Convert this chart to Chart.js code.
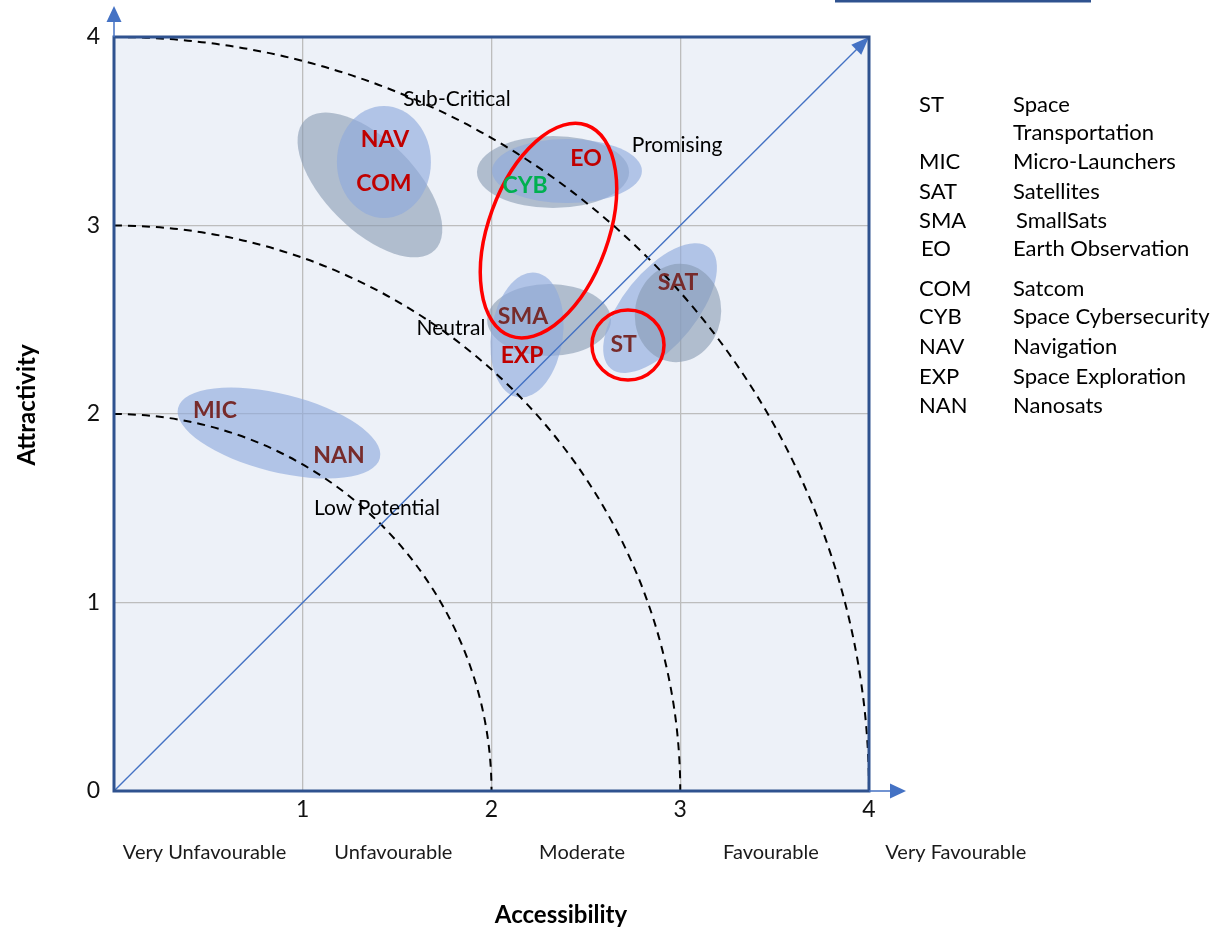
<!DOCTYPE html>
<html>
<head>
<meta charset="utf-8">
<title>Attractivity vs Accessibility</title>
<script src="https://cdn.jsdelivr.net/npm/chart.js@4.4.1/dist/chart.umd.min.js"></script>
<style>
  html, body { margin: 0; padding: 0; background: #ffffff; }
  #wrap { position: relative; width: 1217px; height: 929px; }
  canvas { display: block; }
</style>
</head>
<body>
<div id="wrap"><canvas id="matrix" width="1217" height="929"></canvas></div>
<script>
// ---- Data -----------------------------------------------------------------
// Axis ticks (0..4 on both axes)
const tickValues = [0, 1, 2, 3, 4];

// Accessibility bands printed under the x axis
const accessBands = ['Very Unfavourable', 'Unfavourable', 'Moderate', 'Favourable', 'Very Favourable'];
const bandAccess  = [0.48, 1.48, 2.48, 3.48, 4.46];

// Segments: code, accessibility (x), attractivity (y)
const segCodes   = ['NAV', 'COM', 'EO', 'CYB', 'SAT', 'SMA', 'EXP', 'ST', 'MIC', 'NAN'];
const segAccess  = [1.436, 1.430, 2.501, 2.178, 2.988, 2.167, 2.162, 2.700, 0.535, 1.192];
const segAttract = [3.454, 3.220, 3.353, 3.210, 2.695, 2.515, 2.308, 2.366, 2.016, 1.782];

// Segment groupings as ellipses: centre (x, y), semi-axes (a, b) in axis units, tilt in degrees
const groupX    = [1.356, 1.430, 2.326, 2.400, 2.305, 2.188, 2.893, 2.988, 0.874];
const groupY    = [3.215, 3.337, 3.284, 3.289, 2.499, 2.419, 2.562, 2.536, 1.899];
const groupA    = [0.487, 0.249, 0.403, 0.397, 0.328, 0.190, 0.413, 0.228, 0.551];
const groupB    = [0.239, 0.297, 0.191, 0.170, 0.191, 0.334, 0.196, 0.262, 0.207];
const groupTilt = [45, 0, 0, 0, 0, 8, -51, 10, 14];
const groupTone = ['grey', 'blue', 'grey', 'blue', 'grey', 'blue', 'blue', 'grey', 'blue'];

// Highlighted groups (red outlines)
const focusX    = [2.302, 2.723];
const focusY    = [2.973, 2.366];
const focusA    = [0.594, 0.191];
const focusB    = [0.318, 0.186];
const focusTilt = [-70, 0];

// Iso-score boundaries (radius from origin)
const boundaryRadii = [2, 3, 4];

// Zone names and where they sit on the plot
const zoneNames  = ['Sub-Critical', 'Promising', 'Neutral', 'Low Potential'];
const zoneAccess = [1.817, 2.983, 1.785, 1.393];
const zoneAttr   = [3.671, 3.427, 2.456, 1.501];

// Diagonal reference line
const diagonal = [{ x: 0, y: 0 }, { x: 4, y: 4 }];

// Key of abbreviations
const keyCodes = ['ST', '', 'MIC', 'SAT', 'SMA', 'EO', 'COM', 'CYB', 'NAV', 'EXP', 'NAN'];
const keyNames = ['Space', 'Transportation', 'Micro-Launchers', 'Satellites', 'SmallSats',
                  'Earth Observation', 'Satcom', 'Space Cybersecurity', 'Navigation',
                  'Space Exploration', 'Nanosats'];

// ---- Styling / layout ------------------------------------------------------
const FONT = 'Lato, "Open Sans", sans-serif';
const segColor = { NAV: '#C00000', COM: '#C00000', EO: '#C00000', EXP: '#C00000',
                   CYB: '#00B050', SAT: '#772B2B', SMA: '#772B2B', ST: '#772B2B',
                   MIC: '#772B2B', NAN: '#772B2B' };
const toneFill = { blue: 'rgba(143,170,220,0.63)', grey: 'rgba(132,151,176,0.58)' };
const keyRowY = [105, 133, 162, 192, 221, 249, 289, 317, 347, 377, 406];
const keyCodeX = [919, 919, 919, 919, 919, 921, 919, 919, 919, 919, 919];
const keyNameX = [1013, 1013, 1013, 1013, 1016, 1013, 1013, 1013, 1013, 1013, 1013];

const AREA = { left: 114, top: 37, right: 869, bottom: 791 };
const W = 1217, H = 929;

function arrowHead(ctx, tipX, tipY, angle, len, half, color) {
  ctx.save();
  ctx.translate(tipX, tipY);
  ctx.rotate(angle);
  ctx.beginPath();
  ctx.moveTo(0, 0);
  ctx.lineTo(-len, -half);
  ctx.lineTo(-len, half);
  ctx.closePath();
  ctx.fillStyle = color;
  ctx.fill();
  ctx.restore();
}

const matrixPlugin = {
  id: 'matrixDecor',
  beforeDraw(chart) {
    const { ctx, chartArea: a } = chart;
    ctx.save();
    ctx.fillStyle = '#EDF1F8';
    ctx.fillRect(a.left, a.top, a.right - a.left, a.bottom - a.top);
    ctx.restore();
  },
  beforeDatasetsDraw(chart) {
    const { ctx, scales: { x: xs, y: ys } } = chart;
    const ux = xs.getPixelForValue(1) - xs.getPixelForValue(0);
    const uy = ys.getPixelForValue(0) - ys.getPixelForValue(1);
    // group ellipses
    ctx.save();
    for (let i = 0; i < groupX.length; i++) {
      ctx.beginPath();
      ctx.ellipse(xs.getPixelForValue(groupX[i]), ys.getPixelForValue(groupY[i]),
                  groupA[i] * ux, groupB[i] * uy, groupTilt[i] * Math.PI / 180, 0, Math.PI * 2);
      ctx.fillStyle = toneFill[groupTone[i]];
      ctx.fill();
    }
    // dashed iso-score boundaries
    ctx.setLineDash([8, 6]);
    ctx.lineWidth = 2;
    ctx.strokeStyle = '#000000';
    const ox = xs.getPixelForValue(0), oy = ys.getPixelForValue(0);
    boundaryRadii.forEach(r => {
      ctx.beginPath();
      ctx.ellipse(ox, oy, r * ux, r * uy, 0, -Math.PI / 2, 0);
      ctx.stroke();
    });
    ctx.restore();
  },
  afterDatasetsDraw(chart) {
    const { ctx, chartArea: a, scales: { x: xs, y: ys } } = chart;
    const ux = xs.getPixelForValue(1) - xs.getPixelForValue(0);
    const uy = ys.getPixelForValue(0) - ys.getPixelForValue(1);
    ctx.save();

    // diagonal arrow head
    arrowHead(ctx, xs.getPixelForValue(4), ys.getPixelForValue(4), -Math.PI / 4, 18, 7, '#4472C4');

    // red highlight outlines
    ctx.lineWidth = 3.5;
    ctx.strokeStyle = '#FF0000';
    for (let i = 0; i < focusX.length; i++) {
      ctx.beginPath();
      ctx.ellipse(xs.getPixelForValue(focusX[i]), ys.getPixelForValue(focusY[i]),
                  focusA[i] * ux, focusB[i] * uy, focusTilt[i] * Math.PI / 180, 0, Math.PI * 2);
      ctx.stroke();
    }

    // zone names
    ctx.fillStyle = '#000000';
    ctx.font = '21px ' + FONT;
    ctx.textAlign = 'center';
    ctx.textBaseline = 'middle';
    zoneNames.forEach((t, i) => {
      ctx.fillText(t, xs.getPixelForValue(zoneAccess[i]), ys.getPixelForValue(zoneAttr[i]));
    });

    // segment codes
    ctx.font = 'bold 23px ' + FONT;
    segCodes.forEach((c, i) => {
      ctx.fillStyle = segColor[c];
      ctx.fillText(c, xs.getPixelForValue(segAccess[i]), ys.getPixelForValue(segAttract[i]));
    });

    // plot frame
    ctx.lineWidth = 3;
    ctx.strokeStyle = '#2F528F';
    ctx.strokeRect(a.left, a.top, a.right - a.left, a.bottom - a.top);

    // axis arrows
    ctx.lineWidth = 1.5;
    ctx.strokeStyle = '#4472C4';
    ctx.beginPath();
    ctx.moveTo(a.left, a.top);
    ctx.lineTo(a.left, a.top - 18);
    ctx.moveTo(a.right, a.bottom);
    ctx.lineTo(a.right + 22, a.bottom);
    ctx.stroke();
    arrowHead(ctx, a.left, a.top - 31, -Math.PI / 2, 16, 7.5, '#4472C4');
    arrowHead(ctx, a.right + 37, a.bottom, 0, 16, 7.5, '#4472C4');

    // accessibility band names
    ctx.fillStyle = '#1a1a1a';
    ctx.font = '20px ' + FONT;
    accessBands.forEach((t, i) => {
      ctx.fillText(t, xs.getPixelForValue(bandAccess[i]), 853);
    });

    // axis titles
    ctx.fillStyle = '#000000';
    ctx.font = 'bold 24px ' + FONT;
    ctx.fillText('Accessibility', 561, 915);
    ctx.save();
    ctx.translate(27, 405);
    ctx.rotate(-Math.PI / 2);
    ctx.fillText('Attractivity', 0, 0);
    ctx.restore();

    // abbreviation key
    ctx.textAlign = 'left';
    ctx.font = '22px ' + FONT;
    ctx.fillStyle = '#000000';
    keyNames.forEach((n, i) => {
      if (keyCodes[i]) ctx.fillText(keyCodes[i], keyCodeX[i], keyRowY[i]);
      ctx.fillText(n, keyNameX[i], keyRowY[i]);
    });

    // rule at the top right
    ctx.fillStyle = '#2F528F';
    ctx.fillRect(835, 0, 256, 2.5);

    ctx.restore();
  }
};

const tickFont = { family: FONT, size: 23 };

new Chart(document.getElementById('matrix'), {
  type: 'scatter',
  data: {
    datasets: [{
      type: 'line',
      data: diagonal,
      borderColor: '#4472C4',
      borderWidth: 1.4,
      pointRadius: 0,
      fill: false,
      clip: false
    }]
  },
  options: {
    responsive: false,
    animation: false,
    events: [],
    layout: { padding: { left: 0, top: AREA.top, right: W - AREA.right, bottom: 0 } },
    scales: {
      x: {
        type: 'linear', min: 0, max: 4,
        afterFit(s) { s.height = H - AREA.bottom; },
        afterBuildTicks(s) { s.ticks = tickValues.map(v => ({ value: v })); },
        ticks: {
          callback: v => (v === 0 ? '' : String(v)),
          font: tickFont, color: '#111111', padding: 5, maxRotation: 0
        },
        grid: { color: '#BDBDBD', lineWidth: 1.3, drawTicks: false },
        border: { display: false }
      },
      y: {
        type: 'linear', min: 0, max: 4,
        afterFit(s) { s.width = AREA.left; },
        afterBuildTicks(s) { s.ticks = tickValues.map(v => ({ value: v })); },
        ticks: { font: tickFont, color: '#111111', padding: 14 },
        grid: { color: '#BDBDBD', lineWidth: 1.3, drawTicks: false },
        border: { display: false }
      }
    },
    plugins: { legend: { display: false }, tooltip: { enabled: false } }
  },
  plugins: [matrixPlugin]
});
</script>
</body>
</html>
